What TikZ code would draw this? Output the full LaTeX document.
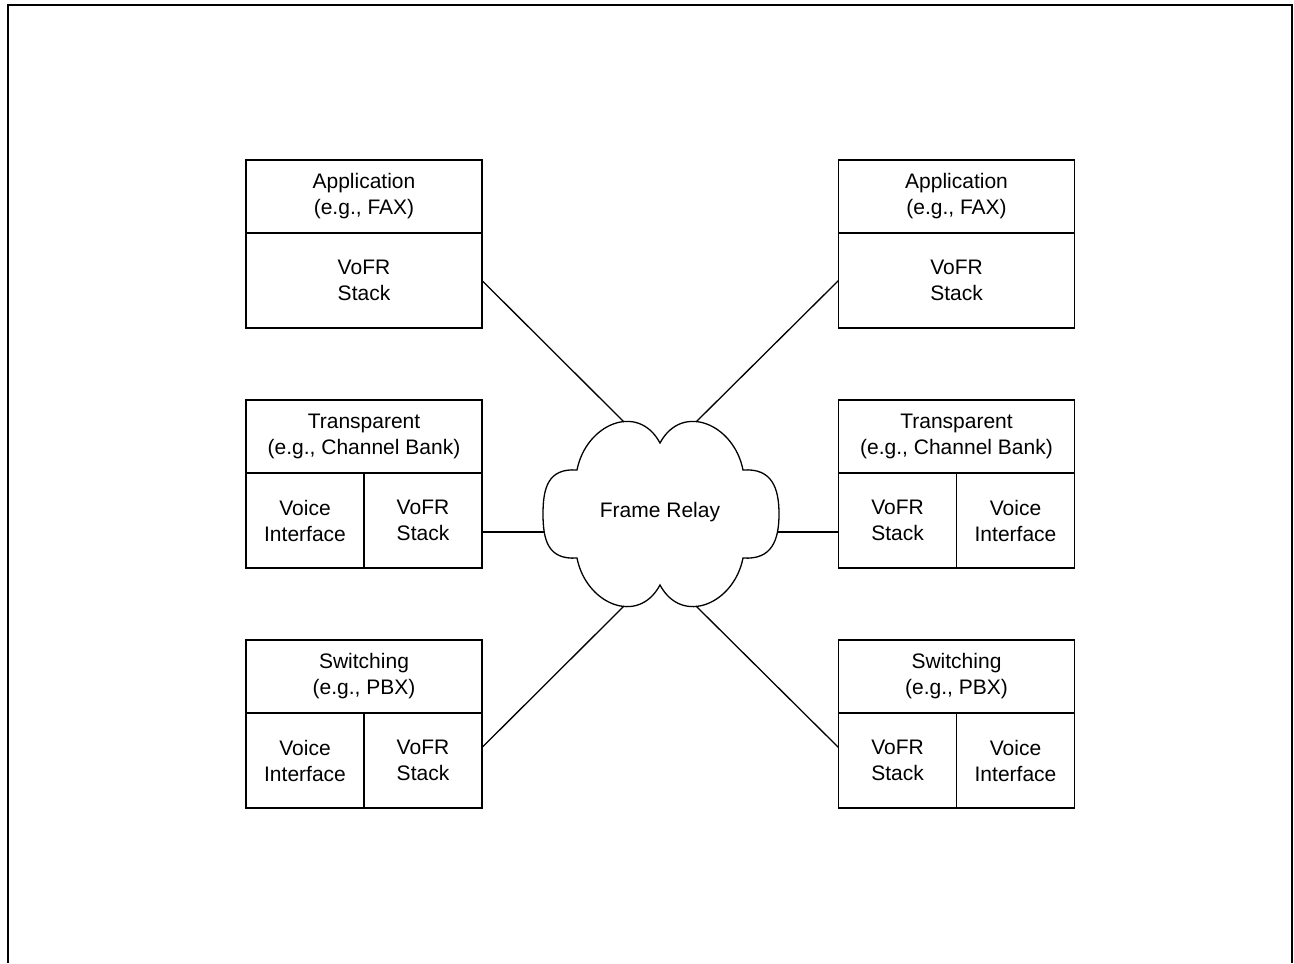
\documentclass[tikz,border=0pt]{standalone}
\usepackage{fontspec}
\setmainfont{Liberation Sans}
\usepackage{tikz}
\usetikzlibrary{positioning}

\begin{document}
\begin{tikzpicture}[x=0.5pt, y=-0.5pt, line width=0.65pt,
    every node/.style={font=\fontsize{10.5}{13}\selectfont, align=center, inner sep=0pt, outer sep=0pt},
    headbox/.style={draw, minimum width=118pt, minimum height=36.5pt},
    bodybox/.style={draw, minimum width=118pt, minimum height=47.5pt},
    halfbox/.style={draw, minimum width=59pt, minimum height=47.5pt}]
  \useasboundingbox (0,0) rectangle (1294,963);
  \draw[line width=1pt] (8,963) -- (8,5.3) -- (1292,5.3) -- (1292,963);

  % left column
  \node[headbox] (appL) at (364,196.5) {Application\\(e.g., FAX)};
  \node[bodybox, below=0pt of appL] (stackL) {VoFR\\Stack};
  \node[headbox] (transL) at (364,436.5) {Transparent\\(e.g., Channel Bank)};
  \node[halfbox, anchor=north west] (voiceL) at (transL.south west) {Voice\\Interface};
  \node[halfbox, right=0pt of voiceL] (vofrL) {VoFR\\Stack};
  \node[headbox] (switchL) at (364,676.5) {Switching\\(e.g., PBX)};
  \node[halfbox, anchor=north west] (pbxvoiceL) at (switchL.south west) {Voice\\Interface};
  \node[halfbox, right=0pt of pbxvoiceL] (pbxvofrL) {VoFR\\Stack};

  % right column
  \node[headbox] (appR) at (956.5,196.5) {Application\\(e.g., FAX)};
  \node[bodybox, below=0pt of appR] (stackR) {VoFR\\Stack};
  \node[headbox] (transR) at (956.5,436.5) {Transparent\\(e.g., Channel Bank)};
  \node[halfbox, anchor=north west] (vofrR) at (transR.south west) {VoFR\\Stack};
  \node[halfbox, right=0pt of vofrR] (voiceR) {Voice\\Interface};
  \node[headbox] (switchR) at (956.5,676.5) {Switching\\(e.g., PBX)};
  \node[halfbox, anchor=north west] (pbxvofrR) at (switchR.south west) {VoFR\\Stack};
  \node[halfbox, right=0pt of pbxvofrR] (pbxvoiceR) {Voice\\Interface};

  % cloud
  \draw (577,470) .. controls (586,424) and (638,402) .. (660,443)
    .. controls (682,402) and (734,424) .. (743,470)
    .. controls (772,468) and (779,488) .. (779,514)
    .. controls (779,540) and (772,560) .. (743,558)
    .. controls (734,604) and (682,626) .. (660,585)
    .. controls (638,626) and (586,604) .. (577,558)
    .. controls (548,560) and (543,540) .. (543,514)
    .. controls (543,488) and (548,468) .. (577,470) -- cycle;
  \node (relay) at (660,512) {Frame Relay};
  \coordinate (cNW) at (624,422);
  \coordinate (cNE) at (696,422);
  \coordinate (cW) at (544,532);
  \coordinate (cE) at (778,532);
  \coordinate (cSW) at (624,606);
  \coordinate (cSE) at (696,606);

  \draw (stackL.east) -- (cNW);
  \draw (stackR.west) -- (cNE);
  \draw (vofrL.east |- cW) -- (cW);
  \draw (vofrR.west |- cE) -- (cE);
  \draw ([yshift=6.5pt]pbxvofrL.east) -- (cSW);
  \draw ([yshift=6.5pt]pbxvofrR.west) -- (cSE);
\end{tikzpicture}
\end{document}
